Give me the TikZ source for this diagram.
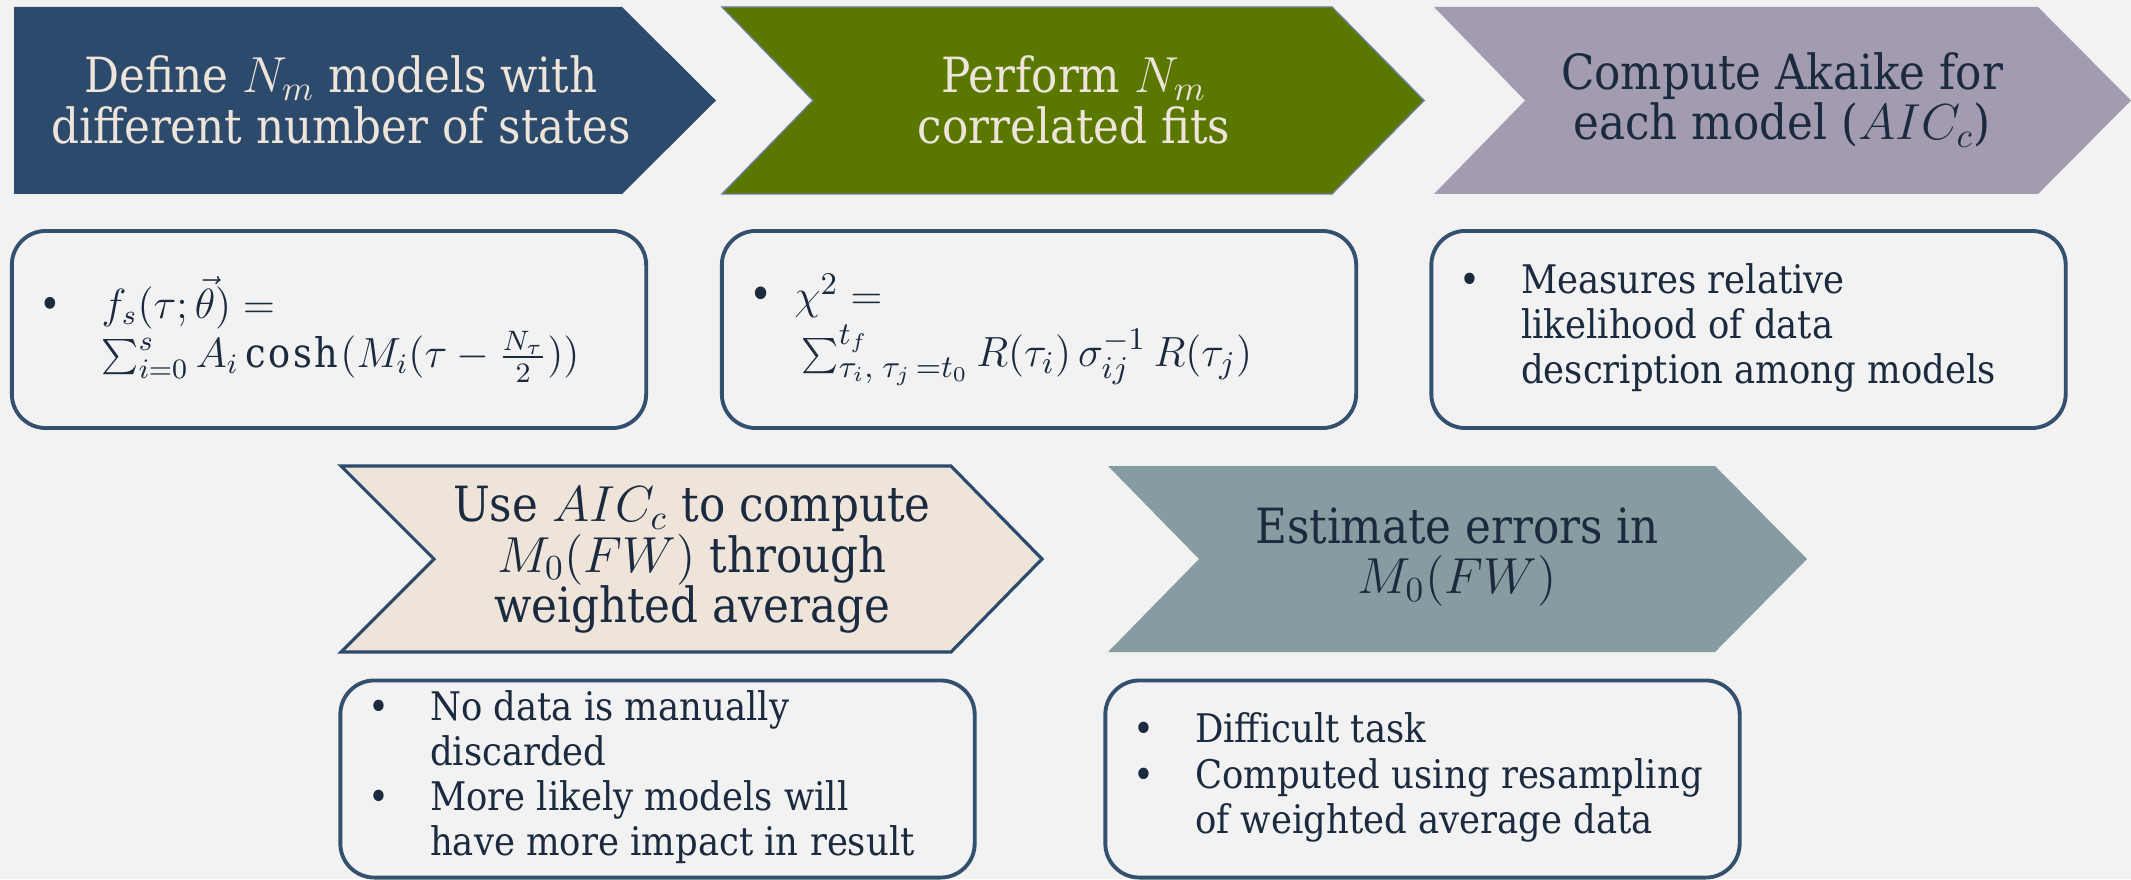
\documentclass[tikz,border=0pt]{standalone}
\usepackage{fontspec}
\setmainfont{DejaVu Serif}[FakeStretch=0.9]
\usetikzlibrary{positioning}
\definecolor{paper}{HTML}{F2F2F2}
\definecolor{navy}{HTML}{2C4A6B}
\definecolor{olive}{HTML}{5A7800}
\definecolor{lilac}{HTML}{A39CB1}
\definecolor{sand}{HTML}{EEE4DA}
\definecolor{slate}{HTML}{879CA1}
\definecolor{ink}{HTML}{1B2A3F}
\definecolor{rim}{HTML}{34506F}
\begin{document}
\begin{tikzpicture}[x=0.01cm, y=-0.01cm,
  head/.style={align=center, font=\fontsize{13.8}{14.4}\selectfont},
  card/.style={draw=rim, line width=1.1pt, rounded corners=0.34cm,
    minimum width=6.34cm, minimum height=1.97cm},
  note/.style={inner sep=0pt, text=ink, font=\fontsize{11.2}{12.8}\selectfont}]
  \fill[paper] (0,0) rectangle (2131,879);
  \useasboundingbox (0,0) rectangle (2131,879);

  % top row of arrows
  \fill[navy] (14,7) -- (622,7) -- (716,100.5) -- (622,194) -- (14,194) -- cycle;
  \filldraw[fill=olive, draw=navy!70, line width=0.4pt] (722,7) -- (1332,7) -- (1424,100.5) -- (1332,194) -- (722,194) -- (813,100.5) -- cycle;
  \fill[lilac] (1434,7) -- (2038,7) -- (2131,100.5) -- (2038,194) -- (1434,194) -- (1525,100.5) -- cycle;
  \node[head, text=sand] (define) at (341,100) {Define $N_m$ models with\\different number of states};
  \node[head, text=sand] (perform) at (1074,100) {Perform $N_m$\\correlated fits};
  \node[head, text=ink] (akaike) at (1782,100) {Compute Akaike for\\each model ($AIC_c$)};

  % second row of arrows
  \filldraw[fill=sand, draw=navy, line width=0.9pt] (341,466) -- (951,466) -- (1042,559) -- (951,652) -- (341,652) -- (434,559) -- cycle;
  \fill[slate] (1108,466) -- (1715,466) -- (1807,559) -- (1715,652) -- (1108,652) -- (1199,559) -- cycle;
  \node[head, text=ink] (useaic) at (692,560) {Use $AIC_c$ to compute\\$M_0(FW)$ through\\weighted average};
  \node[head, text=ink] (estimate) at (1457,557) {Estimate errors in\\$M_0(FW)$};

  % boxes
  \node[card] (b1) at (329,329.5) {};
  \node[card] (b2) at (1039,329.5) {};
  \node[card] (b3) at (1748.5,329.5) {};
  \node[card] (b4) at (657.5,779) {};
  \node[card] (b5) at (1422.5,779) {};

  \node[note, font=\fontsize{11.6}{13}\selectfont, right=0.29cm of b1.west] (fit) {\begin{tabular}{@{}p{0.62cm}@{}l@{}}
    \textbullet & $f_s(\tau;\vec{\theta}) =$\\
    & $\sum\nolimits_{i=0}^{s} A_i\cosh\bigl(M_i(\tau-\frac{N_\tau}{2})\bigr)$
  \end{tabular}};
  \node[note, font=\fontsize{12.4}{13}\selectfont, right=0.29cm of b2.west] (chisq) {\begin{tabular}{@{}p{0.45cm}@{}l@{}}
    \textbullet & $\chi^2 =$\\[0.5pt]
    & $\,\sum\nolimits_{\tau_i,\;\tau_j\,=t_0}^{t_f} R(\tau_i)\,\sigma^{-1}_{ij}\,R(\tau_j)$
  \end{tabular}};
  \node[note, right=0.29cm of b3.west] (measure) {\begin{tabular}{@{}p{0.62cm}@{}l@{}}
    \textbullet & Measures relative\\
    & likelihood of data\\
    & description among models
  \end{tabular}};
  \node[note, right=0.29cm of b4.west] (weight) {\begin{tabular}{@{}p{0.62cm}@{}l@{}}
    \textbullet & No data is manually\\
    & discarded\\
    \textbullet & More likely models will\\
    & have more impact in result
  \end{tabular}};
  \node[note, right=0.29cm of b5.west] (error) {\begin{tabular}{@{}p{0.62cm}@{}l@{}}
    \textbullet & Difficult task\\
    \textbullet & Computed using resampling\\
    & of weighted average data
  \end{tabular}};
\end{tikzpicture}
\end{document}
